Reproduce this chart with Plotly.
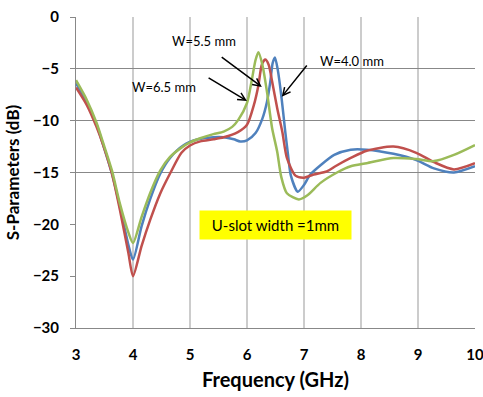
import plotly.graph_objects as go

# ---- data ----
freq_40 = [3.0, 3.19, 3.36, 3.48, 3.63, 3.77, 3.92, 4.0, 4.15, 4.3, 4.48, 4.65, 4.88, 5.14,
           5.41, 5.59, 5.77, 5.88, 6.0, 6.15, 6.27, 6.35, 6.41, 6.45, 6.49, 6.54, 6.6, 6.67,
           6.72, 6.77, 6.89, 7.0, 7.11, 7.29, 7.53, 7.82, 8.1, 8.57, 8.97, 9.28, 9.63, 10.0]
s_40 = [-6.4, -8.2, -10.4, -12.4, -15.1, -18.3, -22.0, -23.4, -20.2, -17.6, -15.1, -13.6, -12.4, -11.8,
        -11.6, -11.6, -11.8, -12.0, -11.9, -11.2, -9.8, -8.2, -6.2, -4.45, -3.9, -5.1, -7.5, -11.0,
        -13.3, -15.3, -16.85, -16.2, -15.2, -14.3, -13.3, -12.8, -12.8, -13.2, -13.8, -14.6, -15.0, -14.4]

freq_55 = [3.0, 3.19, 3.36, 3.48, 3.63, 3.77, 3.92, 4.0, 4.15, 4.3, 4.48, 4.65, 4.85, 5.0,
           5.18, 5.41, 5.59, 5.84, 6.0, 6.12, 6.2, 6.26, 6.32, 6.38, 6.44, 6.53, 6.62, 6.7,
           6.85, 7.0, 7.17, 7.4, 7.55, 7.82, 8.1, 8.57, 8.97, 9.28, 9.63, 10.0]
s_55 = [-6.8, -8.5, -10.6, -12.4, -15.1, -18.6, -22.8, -25.0, -22.1, -19.6, -17.0, -15.1, -13.1, -12.4,
        -12.0, -11.8, -11.6, -11.1, -10.4, -8.5, -6.6, -4.6, -4.1, -4.6, -6.2, -8.8, -11.1, -13.6,
        -15.3, -15.5, -15.2, -14.9, -14.4, -13.6, -12.9, -12.5, -13.1, -14.0, -14.7, -14.1]

freq_65 = [3.0, 3.19, 3.36, 3.48, 3.63, 3.77, 3.92, 4.0, 4.15, 4.3, 4.48, 4.65, 4.85, 5.0,
           5.18, 5.41, 5.59, 5.74, 5.85, 6.0, 6.09, 6.15, 6.2, 6.27, 6.35, 6.44, 6.53, 6.6,
           6.7, 6.91, 7.06, 7.29, 7.58, 7.82, 8.1, 8.57, 8.97, 9.28, 9.63, 10.0]
s_65 = [-6.1, -8.0, -10.2, -12.2, -14.8, -18.0, -20.8, -21.8, -19.3, -17.0, -14.8, -13.5, -12.6, -12.1,
        -11.7, -11.3, -11.05, -10.6, -9.9, -8.3, -5.9, -4.15, -3.4, -4.6, -7.2, -10.7, -13.0, -15.4,
        -17.0, -17.6, -17.2, -16.0, -15.0, -14.4, -14.1, -13.6, -13.7, -13.9, -13.3, -12.35]

x_ticks = [3, 4, 5, 6, 7, 8, 9, 10]
y_ticks = [-30, -25, -20, -15, -10, -5, 0]
y_grid = [-15, -10, -5]

FONT = "Lato"

fig = go.Figure()
for fx, sy, col, nm in [(freq_40, s_40, "#4F81BD", "W=4.0 mm"),
                        (freq_55, s_55, "#C0504D", "W=5.5 mm"),
                        (freq_65, s_65, "#9BBB59", "W=6.5 mm")]:
    fig.add_trace(go.Scatter(x=fx, y=sy, mode="lines", name=nm,
                             line=dict(color=col, width=2.5, shape="spline", smoothing=0.7)))

# invisible helper trace to enable the second y axis for partial gridlines
fig.add_trace(go.Scatter(x=[3], y=[-30], yaxis="y2", mode="markers",
                         marker=dict(opacity=0), showlegend=False, hoverinfo="skip"))

fig.update_layout(
    width=483, height=397,
    margin=dict(l=76, r=8, t=17, b=69, autoexpand=False),
    paper_bgcolor="white", plot_bgcolor="white",
    showlegend=False,
    font=dict(family=FONT, color="black"),
    xaxis=dict(range=[3, 10], tickvals=x_ticks, showgrid=True, gridcolor="#CCCCCC", gridwidth=1.5,
               showline=True, linecolor="#888888", linewidth=1, ticks="", zeroline=False,
               ticklabeloverflow="allow", automargin=False,
               tickfont=dict(family=FONT, size=15, color="black", weight="bold"),
               ticklabelstandoff=13,
               title=dict(text="Frequency (GHz)", font=dict(family=FONT, size=20, weight="bold"),
                          standoff=10)),
    yaxis=dict(range=[-30, 0], tickvals=y_ticks, showgrid=False, zeroline=False, automargin=False,
               showline=True, linecolor="#888888", linewidth=1, ticks="outside", ticklen=5,
               tickcolor="#888888",
               tickfont=dict(family=FONT, size=15, color="black", weight="bold"),
               ticklabelstandoff=8,
               title=dict(text="S-Parameters (dB)", font=dict(family=FONT, size=17, weight="bold"),
                          standoff=8)),
    yaxis2=dict(range=[-30, 0], overlaying="y", tickvals=y_grid, showticklabels=False,
                showgrid=True, gridcolor="#888888", gridwidth=1, zeroline=False, showline=False,
                ticks=""),
)

ann_font = dict(family=FONT, size=13, color="black")
arrow_style = dict(showarrow=True, arrowhead=5, arrowsize=1, arrowwidth=1.5, arrowcolor="black",
                   text="", axref="x", ayref="y")
# arrows: tail (ax, ay) -> head (x, y)
fig.add_annotation(x=6.26, y=-6.75, ax=5.53, ay=-3.76, **arrow_style)
fig.add_annotation(x=6.0, y=-8.1, ax=5.30, ay=-5.79, **arrow_style)
fig.add_annotation(x=6.61, y=-7.69, ax=7.07, ay=-4.53, **arrow_style)

fig.add_annotation(x=(170 - 76) / 399, y=1 - (41 - 17) / 311, xref="paper", yref="paper",
                   text="W=5.5 mm", showarrow=False, xanchor="left", yanchor="middle", font=ann_font)
fig.add_annotation(x=(130 - 76) / 399, y=1 - (87 - 17) / 311, xref="paper", yref="paper",
                   text="W=6.5 mm", showarrow=False, xanchor="left", yanchor="middle", font=ann_font)
fig.add_annotation(x=(318 - 76) / 399, y=1 - (61 - 17) / 311, xref="paper", yref="paper",
                   text="W=4.0 mm", showarrow=False, xanchor="left", yanchor="middle", font=ann_font)

fig.add_annotation(x=(275.5 - 76) / 399, y=1 - (225 - 17) / 311, xref="paper", yref="paper",
                   text="U-slot width =1mm", showarrow=False, xanchor="center", yanchor="middle",
                   bgcolor="#FFFF00", borderpad=5, width=141, height=18,
                   font=dict(family=FONT, size=15, color="black"))

fig.write_html("out.html")
